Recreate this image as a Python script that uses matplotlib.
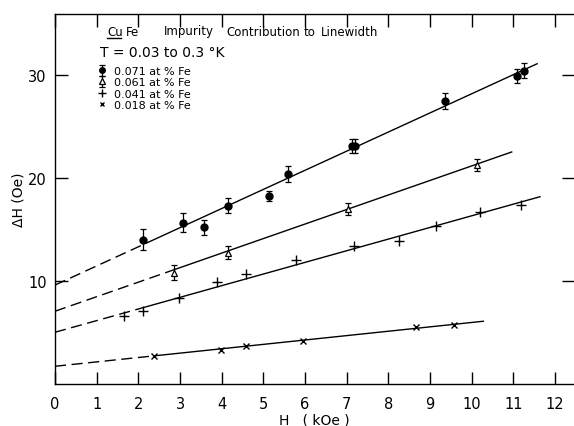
"""
Cu Fe impurity contribution to linewidth
"""
import matplotlib
matplotlib.use("Agg")
import matplotlib.pyplot as plt
import numpy as np

# 0.071 at % Fe  (filled circles, with error bars)
h_071 = [2.12, 3.06, 3.57, 4.14, 5.13, 5.6, 7.12, 7.2, 9.36, 11.08, 11.25]
dh_071 = [14.0, 15.65, 15.2, 17.3, 18.25, 20.4, 23.1, 23.1, 27.45, 29.9, 30.4]
err_071 = [1.0, 0.95, 0.7, 0.7, 0.5, 0.8, 0.7, 0.7, 0.75, 0.7, 0.7]

# 0.061 at % Fe  (open triangles, with error bars)
h_061 = [2.86, 4.16, 7.02, 10.13]
dh_061 = [10.8, 12.75, 17.0, 21.25]
err_061 = [0.7, 0.65, 0.6, 0.55]

# 0.041 at % Fe  (plus)
h_041 = [1.66, 2.12, 2.98, 3.88, 4.58, 5.78, 7.18, 8.26, 9.14, 10.2, 11.18]
dh_041 = [6.63, 7.12, 8.35, 9.85, 10.67, 12.07, 13.43, 13.85, 15.37, 16.73, 17.4]

# 0.018 at % Fe  (x)
h_018 = [2.38, 3.98, 4.59, 5.94, 8.66, 9.58]
dh_018 = [2.75, 3.33, 3.72, 4.14, 5.5, 5.76]

# straight line fits: intercept, slope, end of dashed part, end of line
fits = {
    "071": (9.6, 1.856, 2.2, 11.57),
    "061": (7.06, 1.41, 2.9, 10.96),
    "041": (5.02, 1.13, 2.2, 11.64),
    "018": (1.72, 0.425, 2.4, 10.28),
}

labels = ["0.071 at % Fe", "0.061 at % Fe", "0.041 at % Fe", "0.018 at % Fe"]

# title words and their left edge (pixels)
title_words = [("Cu", 107), ("Fe", 126), ("Impurity", 164), ("Contribution", 226),
               ("to", 304), ("Linewidth", 321)]


def draw_fit(ax, key):
    a, b, xd, xe = fits[key]
    xs = np.array([0.0, xd])
    ax.plot(xs, a + b * xs, color="black", lw=1.0, ls=(0, (8, 4)))
    xs = np.array([xd, xe])
    ax.plot(xs, a + b * xs, color="black", lw=1.0)


fig = plt.figure(figsize=(5.74, 4.27), dpi=100)
W, H = 574.0, 427.0
ax = fig.add_axes([55 / W, (H - 385) / H, (W - 55) / W, (385 - 15) / H])
ax.set_xlim(0, 12.455)
ax.set_ylim(0, 35.9)

for k in fits:
    draw_fit(ax, k)

ax.errorbar(h_071, dh_071, yerr=err_071, fmt="o", color="black", ms=5,
            elinewidth=0.9, capsize=2.5, capthick=0.9, label=labels[0])
ax.errorbar(h_061, dh_061, yerr=err_061, fmt="^", color="black", mfc="white",
            ms=5, mew=0.9, elinewidth=0.9, capsize=2.5, capthick=0.9,
            label=labels[1])
ax.plot(h_041, dh_041, "+", color="black", ms=7, mew=1.0, label=labels[2])
ax.plot(h_018, dh_018, "x", color="black", ms=4, mew=1.0, label=labels[3])

ax.set_xticks(range(0, 13))
ax.set_yticks([10, 20, 30])
ax.tick_params(direction="in", length=9, width=1.0, labelsize=10.5,
               top=True, right=True, pad=6)
ax.tick_params(axis="x", pad=9)
ax.spines["right"].set_visible(False)
for s in ["left", "bottom", "top"]:
    ax.spines[s].set_linewidth(1.0)

ax.set_xlabel("H   ( kOe )", fontsize=10, labelpad=1)
ax.set_ylabel("ΔH (Oe)", fontsize=10, labelpad=2)

# title block
for word, px in title_words:
    fig.text(px / W, 1 - 35.5 / H, word, fontsize=8.5, va="baseline", ha="left")
fig.add_artist(plt.Line2D([107 / W, 121 / W], [1 - 39 / H, 1 - 39 / H],
                          color="black", lw=1.0))
fig.text(100 / W, 1 - 53 / H, "T = 0.03 to 0.3 °K", fontsize=10,
         va="center", ha="left")

handles, labs = ax.get_legend_handles_labels()
order = [labs.index(l) for l in labels]
leg = ax.legend([handles[i] for i in order], [labs[i] for i in order],
                loc="upper left", bbox_to_anchor=(98 / W, 1 - 67 / H),
                bbox_transform=fig.transFigure, frameon=False, fontsize=8,
                handlelength=0.8, handletextpad=0.6, labelspacing=0.12,
                borderpad=0, borderaxespad=0, markerscale=0.8)

fig.savefig("out.png", dpi=100)
